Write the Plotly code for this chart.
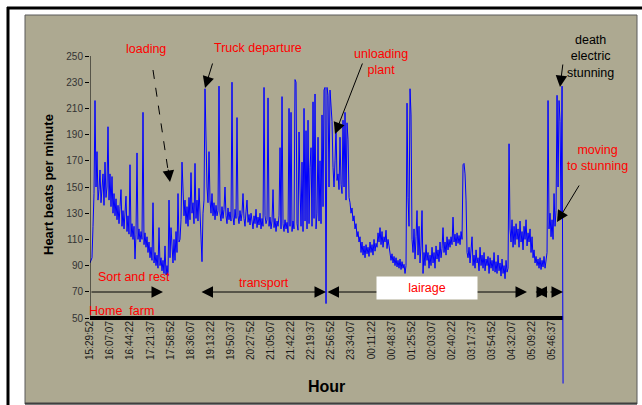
import plotly.graph_objects as go

# ---------------- data ----------------
start_time = "15:29:52"
end_time = "06:06:58"

hr = [
    92, 94, 96, 120, 145, 216, 150, 177, 140, 148,
    163, 138, 150, 160, 136, 169, 142, 150, 196, 140,
    160, 135, 158, 130, 145, 128, 141, 125, 136, 122,
    135, 148, 120, 132, 118, 130, 143, 116, 128, 114,
    167, 112, 122, 110, 120, 95, 114, 176, 110, 118,
    108, 116, 110, 207, 106, 115, 104, 112, 100, 108,
    96, 104, 94, 138, 92, 100, 90, 98, 88, 119,
    90, 96, 86, 94, 84, 105, 83, 90, 82, 140,
    96, 119, 100, 92, 110, 94, 116, 100, 145, 108,
    110, 125, 169, 152, 128, 140, 122, 135, 120, 142,
    125, 161, 130, 138, 122, 168, 126, 140, 124, 149,
    130, 118, 93, 130, 140, 225, 186, 150, 138, 177,
    140, 130, 145, 128, 138, 125, 136, 128, 132, 227,
    130, 124, 135, 126, 133, 150, 128, 122, 134, 125,
    131, 124, 230, 127, 121, 133, 126, 203, 128, 122,
    132, 124, 130, 145, 126, 120, 131, 140, 123, 129,
    121, 130, 124, 118, 128, 122, 133, 119, 127, 121,
    130, 118, 126, 120, 226, 128, 122, 125, 218, 120,
    127, 118, 124, 148, 119, 126, 116, 124, 120, 128,
    180, 118, 219, 122, 116, 125, 118, 123, 115, 210,
    120, 207, 116, 124, 118, 232, 230, 122, 117, 192,
    150, 120, 169, 116, 210, 124, 193, 118, 201, 122,
    165, 180, 120, 215, 126, 221, 118, 130, 188, 124,
    170, 122, 205, 135, 224, 226, 61, 226, 220, 150,
    224, 210, 200, 165, 150, 170, 196, 155, 160, 148,
    188, 152, 145, 201, 150, 207, 140, 199, 186, 142,
    138, 130, 134, 124, 128, 118, 122, 112, 116, 108,
    112, 100, 108, 98, 105, 96, 106, 99, 104, 97,
    108, 100, 106, 98, 110, 101, 107, 104, 115, 108,
    119, 106, 116, 104, 112, 108, 117, 103, 110, 105,
    100, 94, 99, 92, 97, 90, 96, 89, 94, 88,
    95, 87, 93, 88, 91, 84, 90, 214, 142, 120,
    225, 205, 110, 100, 118, 95, 112, 132, 98, 120,
    92, 105, 132, 84, 100, 90, 106, 94, 100, 88,
    98, 90, 104, 92, 100, 88, 105, 95, 102, 93,
    108, 96, 103, 119, 100, 108, 98, 112, 102, 110,
    104, 112, 106, 127, 108, 114, 105, 115, 107, 113,
    106, 116, 110, 167, 168, 160, 140, 100, 96, 104,
    92, 100, 112, 90, 98, 88, 102, 92, 96, 86,
    104, 90, 98, 88, 100, 86, 95, 90, 97, 84,
    96, 88, 94, 86, 100, 85, 93, 84, 98, 86,
    92, 82, 95, 84, 90, 80, 94, 85, 88, 183,
    118, 108, 125, 104, 120, 106, 122, 110, 118, 104,
    124, 108, 116, 102, 120, 110, 125, 105, 115, 108,
    118, 100, 112, 96, 102, 92, 97, 90, 95, 88,
    96, 87, 94, 89, 97, 88, 93, 100, 216, 118,
    130, 112, 125, 110, 145, 120, 132, 220, 150, 216,
    200, 130, 227, 0,
]

tick_labels = [
    "15:29:52", "16:07:07", "16:44:22", "17:21:37", "17:58:52", "18:36:07",
    "19:13:22", "19:50:37", "20:27:52", "21:05:07", "21:42:22", "22:19:37",
    "22:56:52", "23:34:07", "00:11:22", "00:48:37", "01:25:52", "02:03:07",
    "02:40:22", "03:17:37", "03:54:52", "04:32:07", "05:09:22", "05:46:37",
]
y_ticks = [50, 70, 90, 110, 130, 150, 170, 190, 210, 230, 250]


def minutes_since_start(t):
    h, m, s = (int(v) for v in t.split(":"))
    h0, m0, s0 = (int(v) for v in start_time.split(":"))
    d = (h * 3600 + m * 60 + s) - (h0 * 3600 + m0 * 60 + s0)
    if d < 0:
        d += 24 * 3600
    return d / 60.0


tick_vals = [minutes_since_start(t) for t in tick_labels]
end_min = minutes_since_start(end_time)
n = len(hr)
x_min = [end_min * i / (n - 1) for i in range(n)]

# ---------------- geometry ----------------
W, H = 642, 405
PL, PR, PT, PB = 90, 602, 40, 389          # plot area in pixels
PX_PER_MIN = 20.09 / 37.25
PX_PER_BPM = 1.31
X_RANGE = [0, (PR - PL) / PX_PER_MIN]
Y_RANGE = [50 - (PB - 318) / PX_PER_BPM, 250 + (56 - PT) / PX_PER_BPM]


def dx(px):
    return (px - PL) / PX_PER_MIN


def dy(py):
    return 50 + (318 - py) / PX_PER_BPM


def paper_x(px):
    return (px - PL) / (PR - PL)


def paper_y(py):
    return (PB - py) / (PB - PT)


FONT = "Liberation Sans, Arial, sans-serif"
RED = "#ff0000"

fig = go.Figure()
fig.add_trace(go.Scatter(x=x_min, y=hr, mode="lines",
                         line=dict(color="#0000ff", width=1),
                         hoverinfo="skip", showlegend=False))

shapes = [
    dict(type="rect", xref="paper", yref="paper",
         x0=paper_x(25), x1=paper_x(637), y0=paper_y(404), y1=paper_y(15),
         fillcolor="#ada991", line=dict(color="#5a5a5a", width=1), layer="below"),
    dict(type="line", xref="paper", yref="paper",
         x0=paper_x(25), x1=paper_x(637), y0=paper_y(403.5), y1=paper_y(403.5),
         line=dict(color="#404040", width=2), layer="below"),
    dict(type="line", xref="paper", yref="paper",
         x0=paper_x(7), x1=paper_x(642), y0=paper_y(8), y1=paper_y(8),
         line=dict(color="black", width=3), layer="below"),
    dict(type="line", xref="paper", yref="paper",
         x0=paper_x(8), x1=paper_x(8), y0=paper_y(7), y1=paper_y(405),
         line=dict(color="black", width=3), layer="below"),
    dict(type="line", xref="x", yref="y", x0=0, x1=0, y0=50, y1=250,
         line=dict(color="black", width=1)),
    dict(type="line", xref="x", yref="y", x0=0, x1=end_min, y0=50, y1=50,
         line=dict(color="black", width=4), layer="below"),
    dict(type="line", xref="x", yref="y", x0=dx(153), y0=dy(70), x1=dx(168), y1=dy(170),
         line=dict(color="black", width=1, dash="dash")),
]

ann = []


def text(px, py, s, color=RED, size=12.5, bold=False, **kw):
    ann.append(dict(xref="paper", yref="paper", x=paper_x(px), y=paper_y(py),
                    text=("<b>%s</b>" % s) if bold else s, showarrow=False,
                    font=dict(family=FONT, size=size, color=color),
                    xanchor="center", yanchor="middle", **kw))


def arrow(tip, tail, both=False):
    d = dict(xref="x", yref="y", x=dx(tip[0]), y=dy(tip[1]),
             axref="pixel", ayref="pixel", ax=tail[0] - tip[0], ay=tail[1] - tip[1],
             text="", showarrow=True, arrowhead=2, arrowsize=2.3, arrowwidth=1,
             arrowcolor="black")
    if both:
        d.update(arrowside="end+start", startarrowhead=2, startarrowsize=2.3)
    ann.append(d)


arrow((170, 182), (168, 168))
arrow((205, 88), (213, 62))
arrow((335, 134), (363, 62))
arrow((560, 87), (563, 63))
arrow((557, 222), (580, 184))
arrow((163, 292), (90, 292))
arrow((326, 292), (200, 292), both=True)
arrow((527, 292), (326, 292), both=True)
arrow((548, 292), (534, 292), both=True)
arrow((563, 292), (549, 292))

text(146, 49, "loading")
text(258, 48, "Truck departure")
text(381, 62, "unloading<br>plant")
text(590, 56, "death<br>electric<br>stunning", color="black")
text(597, 158, "moving<br>to stunning")
text(134, 277, "Sort and rest")
text(264, 283, "transport")
text(121, 311, "Home  farm")
text(427, 288, "lairage", bgcolor="white", width=100, height=22, borderpad=0)
text(49, 185, "Heart beats per minute", color="black", size=13, bold=True, textangle=-90)
text(326, 386, "Hour", color="black", size=16, bold=True)

fig.update_layout(
    width=W, height=H, autosize=False,
    margin=dict(l=PL, r=W - PR, t=PT, b=H - PB, pad=0),
    paper_bgcolor="white", plot_bgcolor="rgba(0,0,0,0)",
    showlegend=False,
    shapes=shapes, annotations=ann,
    xaxis=dict(range=X_RANGE, anchor="free", position=paper_y(318),
               tickmode="array", tickvals=tick_vals, ticktext=tick_labels,
               tickangle=-90, ticks="", showgrid=False, zeroline=False,
               showline=False, tickfont=dict(family=FONT, size=10, color="#1a1a1a")),
    yaxis=dict(range=Y_RANGE, tickmode="array", tickvals=y_ticks,
               ticks="outside", ticklen=4, tickcolor="black", tickwidth=1,
               showgrid=False, zeroline=False, showline=False,
               tickfont=dict(family=FONT, size=10, color="#333333")),
)

fig.write_html("out.html",
               config={"displayModeBar": False, "staticPlot": True},
               post_script="document.body.style.margin='0px';document.body.style.overflow='hidden';")
